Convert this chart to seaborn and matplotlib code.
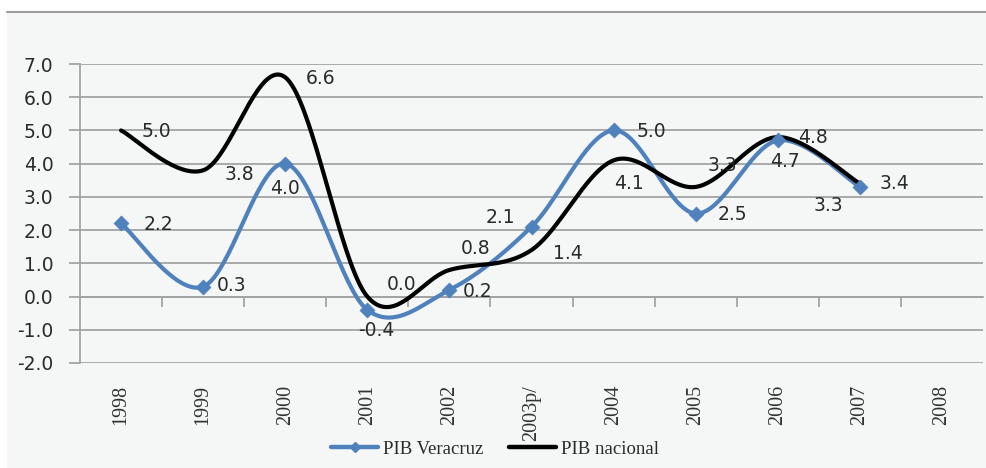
import numpy as np
import pandas as pd
import matplotlib
matplotlib.use("Agg")
import matplotlib.pyplot as plt
import seaborn as sns
from matplotlib.patches import Rectangle
from matplotlib.lines import Line2D

# ---- data -------------------------------------------------------------
years = ["1998", "1999", "2000", "2001", "2002", "2003p/", "2004",
         "2005", "2006", "2007", "2008"]
pib_veracruz = [2.2, 0.3, 4.0, -0.4, 0.2, 2.1, 5.0, 2.5, 4.7, 3.3]
pib_nacional = [5.0, 3.8, 6.6, 0.0, 0.8, 1.4, 4.1, 3.3, 4.8, 3.4]
yticks = [-2, -1, 0, 1, 2, 3, 4, 5, 6, 7]

# data-label offsets in pixels (right, down) from each point
off_veracruz = [(37, 2), (28, 0), (0, 26), (9, 22), (28, 3), (-31, -8),
                (38, 2), (37, 2), (7, 22), (-31, 20)]
off_nacional = [(35, 2), (36, 5), (35, 2), (34, -11), (26, -20), (36, 4),
                (15, 24), (27, -20), (35, 1), (35, 1)]

BLUE = "#4F81BD"
BLACK = "#000000"
GRID = "#a3a3a3"
TXT = "#2a2a2a"


def smooth(values, steps=40):
    """Bezier smoothing through every point (Catmull-Rom style tangents)."""
    p = np.column_stack([np.arange(len(values), dtype=float),
                         np.asarray(values, dtype=float)])
    ext = np.vstack([p[0], p, p[-1]])
    xs, ys = [], []
    t = np.linspace(0, 1, steps)[:, None]
    for i in range(len(p) - 1):
        p0, p1 = ext[i + 1], ext[i + 2]
        c1 = p0 + (ext[i + 2] - ext[i]) / 6.0
        c2 = p1 - (ext[i + 3] - ext[i + 1]) / 6.0
        seg = ((1 - t) ** 3) * p0 + 3 * ((1 - t) ** 2) * t * c1 \
            + 3 * (1 - t) * t ** 2 * c2 + t ** 3 * p1
        if i > 0:
            seg = seg[1:]
        xs.append(seg[:, 0])
        ys.append(seg[:, 1])
    return np.concatenate(xs), np.concatenate(ys)


sns.set_theme(style="white")
plt.rcParams["axes.unicode_minus"] = False
plt.rcParams["font.family"] = ["DejaVu Sans"]

W, H = 986, 468
fig = plt.figure(figsize=(W / 100, H / 100), dpi=100)
fig.patch.set_facecolor("white")

# chart-area background with its top border
fig.patches.append(Rectangle((7 / W, 0), 1 - 7 / W, 1 - 12 / H,
                             transform=fig.transFigure, facecolor="#f5f7f7",
                             edgecolor="none", zorder=-5))
fig.add_artist(Line2D([7 / W, 1], [1 - 12 / H, 1 - 12 / H],
                      transform=fig.transFigure, color="#9c9c9c", lw=1.5,
                      zorder=-4))

ax = fig.add_axes([80 / W, 1 - 363 / H, (983 - 80) / W, (363 - 64) / H])
ax.set_facecolor("none")

# smoothed curves
rows = []
for name, vals in (("PIB nacional", pib_nacional), ("PIB Veracruz", pib_veracruz)):
    xs, ys = smooth(vals)
    rows.append(pd.DataFrame({"x": xs, "y": ys, "serie": name}))
curves = pd.concat(rows, ignore_index=True)

sns.lineplot(data=curves[curves.serie == "PIB Veracruz"], x="x", y="y",
             color=BLUE, linewidth=3.0, sort=False, estimator=None, ax=ax,
             legend=False, zorder=3)
sns.lineplot(data=curves[curves.serie == "PIB nacional"], x="x", y="y",
             color=BLACK, linewidth=3.0, sort=False, estimator=None, ax=ax,
             legend=False, zorder=4)

pts = pd.DataFrame({"x": np.arange(len(pib_veracruz)), "y": pib_veracruz})
sns.scatterplot(data=pts, x="x", y="y", marker="D", s=58, color=BLUE,
                edgecolor=BLUE, linewidth=0.5, ax=ax, zorder=5, legend=False)

# data labels
for vals, offs in ((pib_veracruz, off_veracruz), (pib_nacional, off_nacional)):
    for i, (v, (dx, dy)) in enumerate(zip(vals, offs)):
        ax.annotate(f"{v:.1f}", xy=(i, v), xytext=(dx, -dy + 1),
                    textcoords="offset pixels", ha="center", va="center",
                    fontsize=13.5, color=TXT, family="DejaVu Sans", zorder=6)

# axes
ax.set_xlim(-0.5, 10.5)
ax.set_ylim(-2, 7)
ax.set_yticks(yticks)
ax.set_yticklabels([f"{v:.1f}" for v in yticks])
ax.set_xlabel("")
ax.set_ylabel("")
ax.grid(axis="y", color=GRID, linewidth=1.3)
ax.grid(axis="x", visible=False)
for s in ("top", "right"):
    ax.spines[s].set_visible(False)
ax.spines["left"].set_color(GRID)
ax.spines["left"].set_linewidth(1.3)
ax.spines["bottom"].set_position(("data", 0))
ax.spines["bottom"].set_color(GRID)
ax.spines["bottom"].set_linewidth(1.3)
ax.set_xticks([])
ax.set_xticks(np.arange(0.5, 10, 1), minor=True)
ax.tick_params(axis="x", which="minor", length=7, width=1.3, color=GRID,
               direction="out", bottom=True, labelbottom=False)
ax.tick_params(axis="y", which="major", length=8, width=1.3, color=GRID,
               direction="out", left=True, pad=11, labelsize=13.5,
               labelcolor=TXT)

# category labels along the bottom of the plot
sec = ax.secondary_xaxis(0)
sec.set_xticks(range(len(years)))
sec.set_xticklabels(years, rotation=90, family="Liberation Serif",
                    fontsize=14.5, color="#333333", va="top")
sec.tick_params(axis="x", length=0, pad=16)
sec.spines["bottom"].set_visible(False)

# legend
handles = [Line2D([], [], color=BLUE, lw=3.2, marker="D", markersize=5.5),
           Line2D([], [], color=BLACK, lw=3.2)]
fig.legend(handles, ["PIB Veracruz", "PIB nacional"], loc="center",
           bbox_to_anchor=(495 / W, 1 - 449 / H), ncol=2, frameon=False,
           prop={"family": "Liberation Serif", "size": 13.5},
           handlelength=2.5, handletextpad=0.25, columnspacing=1.4,
           labelcolor=TXT)

fig.savefig("out.png", dpi=100)
